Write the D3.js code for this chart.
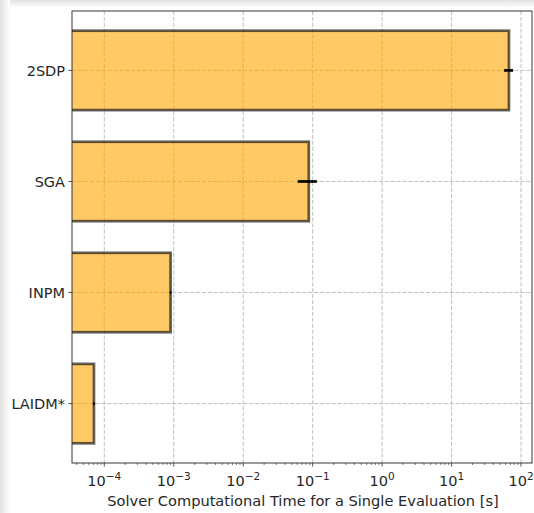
<!DOCTYPE html>
<html>
<head>
<meta charset="utf-8">
<script src="https://cdn.jsdelivr.net/npm/d3@7"></script>
<style>
  html, body { margin: 0; padding: 0; background: #fff; }
  svg { display: block; font-family: "DejaVu Sans", sans-serif; }
</style>
</head>
<body>
<svg id="chart" width="534" height="513"></svg>
<script>
// Solvers, listed top to bottom
const solvers = ["2SDP", "SGA", "INPM", "LAIDM*"];
// Mean time per evaluation [s]
const meanTimes = [67, 0.088, 0.0009, 0.000071];
// Standard deviation of the time [s]
const timeErrors = [10, 0.027, 0.00002, 0.000002];
// Decade exponents for the x-axis tick labels
const tickExponents = [-4, -3, -2, -1, 0, 1, 2];

const svg = d3.select("#chart");
const W = 534, H = 513;
const plot = { left: 72, right: 532, top: 11, bottom: 463 };

// soft shadow along the top and left edges of the frame
const defs = svg.append("defs");
const gTop = defs.append("linearGradient").attr("id", "shadeTop")
  .attr("x1", 0).attr("y1", 0).attr("x2", 0).attr("y2", 1);
gTop.append("stop").attr("offset", 0).attr("stop-color", "#e2e2e2");
gTop.append("stop").attr("offset", 1).attr("stop-color", "#ffffff");
const gLeft = defs.append("linearGradient").attr("id", "shadeLeft")
  .attr("x1", 0).attr("y1", 0).attr("x2", 1).attr("y2", 0);
gLeft.append("stop").attr("offset", 0).attr("stop-color", "#e2e2e2");
gLeft.append("stop").attr("offset", 1).attr("stop-color", "#ffffff");
svg.append("rect").attr("x", 0).attr("y", 0).attr("width", W).attr("height", 8).attr("fill", "url(#shadeTop)");
svg.append("rect").attr("x", 0).attr("y", 0).attr("width", 10).attr("height", H).attr("fill", "url(#shadeLeft)");

const x = d3.scaleLog()
  .domain([Math.pow(10, -4.465), Math.pow(10, 2.158)])
  .range([plot.left, plot.right]);

// categorical positions: index 0 at the bottom, as in a horizontal bar plot
const y = d3.scaleLinear()
  .domain([-0.535, 3.535])
  .range([plot.bottom, plot.top]);
const barHeight = 0.715;
const yPos = (i) => solvers.length - 1 - i;

const clipId = "plotClip";
defs.append("clipPath").attr("id", clipId).append("rect")
  .attr("x", plot.left).attr("y", plot.top)
  .attr("width", plot.right - plot.left).attr("height", plot.bottom - plot.top);

// grid
const majorTicks = tickExponents.map(e => Math.pow(10, e));
const grid = svg.append("g").attr("clip-path", `url(#${clipId})`)
  .attr("stroke", "#b0b0b0").attr("stroke-width", 0.8)
  .attr("stroke-dasharray", "4.1,1.8").attr("fill", "none");
grid.selectAll("line.vx").data(majorTicks).join("line")
  .attr("x1", d => x(d)).attr("x2", d => x(d))
  .attr("y1", plot.top).attr("y2", plot.bottom);
grid.selectAll("line.hy").data(solvers).join("line")
  .attr("x1", plot.left).attr("x2", plot.right)
  .attr("y1", (d, i) => y(yPos(i))).attr("y2", (d, i) => y(yPos(i)));

// bars
const bars = svg.append("g").attr("clip-path", `url(#${clipId})`);
bars.selectAll("rect").data(solvers).join("rect")
  .attr("x", x.range()[0] - 5)
  .attr("y", (d, i) => y(yPos(i) + barHeight / 2))
  .attr("width", (d, i) => x(meanTimes[i]) - x.range()[0] + 5)
  .attr("height", (d, i) => y(yPos(i) - barHeight / 2) - y(yPos(i) + barHeight / 2))
  .attr("fill", "rgba(255,165,0,0.6)")
  .attr("stroke", "rgba(0,0,0,0.62)")
  .attr("stroke-width", 2.7);

// error bars
bars.selectAll("line.err").data(solvers).join("line")
  .attr("class", "err")
  .attr("x1", (d, i) => x(meanTimes[i] - timeErrors[i]))
  .attr("x2", (d, i) => Math.max(x(meanTimes[i] + timeErrors[i]), x(meanTimes[i] - timeErrors[i]) + 1.5))
  .attr("y1", (d, i) => y(yPos(i))).attr("y2", (d, i) => y(yPos(i)))
  .attr("stroke", "#000").attr("stroke-width", 2.7);

// frame
svg.append("rect")
  .attr("x", plot.left).attr("y", plot.top)
  .attr("width", plot.right - plot.left).attr("height", plot.bottom - plot.top)
  .attr("fill", "none").attr("stroke", "#222").attr("stroke-width", 0.9);

// x axis: major ticks with power-of-ten labels
const xAxis = svg.append("g");
const minorTicks = [];
for (let e = -5; e <= 2; e++) {
  for (let m = 2; m <= 9; m++) {
    const v = m * Math.pow(10, e);
    if (v >= x.domain()[0] && v <= x.domain()[1]) minorTicks.push(v);
  }
}
xAxis.selectAll("line.minor").data(minorTicks).join("line")
  .attr("x1", d => x(d)).attr("x2", d => x(d))
  .attr("y1", plot.bottom).attr("y2", plot.bottom + 2)
  .attr("stroke", "#222").attr("stroke-width", 0.6);
xAxis.selectAll("line.major").data(majorTicks).join("line")
  .attr("x1", d => x(d)).attr("x2", d => x(d))
  .attr("y1", plot.bottom).attr("y2", plot.bottom + 3.5)
  .attr("stroke", "#222").attr("stroke-width", 0.8);
const tl = xAxis.selectAll("text.tick").data(tickExponents).join("text")
  .attr("x", d => x(Math.pow(10, d)))
  .attr("y", 486)
  .attr("text-anchor", "middle")
  .attr("font-size", 14.5)
  .attr("fill", "#262626");
tl.append("tspan").text("10");
tl.append("tspan").attr("dy", -6.5).attr("font-size", 10.5)
  .text(d => d < 0 ? "\u2212" + Math.abs(d) : String(d));

svg.append("text")
  .attr("x", (plot.left + plot.right) / 2 + 1)
  .attr("y", 506)
  .attr("text-anchor", "middle")
  .attr("font-size", 14.6)
  .attr("fill", "#262626")
  .text("Solver Computational Time for a Single Evaluation [s]");

// y axis: solver names
const yAxis = svg.append("g");
yAxis.selectAll("line").data(solvers).join("line")
  .attr("x1", plot.left - 3.5).attr("x2", plot.left)
  .attr("y1", (d, i) => y(yPos(i))).attr("y2", (d, i) => y(yPos(i)))
  .attr("stroke", "#222").attr("stroke-width", 0.8);
yAxis.selectAll("text").data(solvers).join("text")
  .attr("x", plot.left - 7)
  .attr("y", (d, i) => y(yPos(i)))
  .attr("dy", "0.36em")
  .attr("text-anchor", "end")
  .attr("font-size", 14.5)
  .attr("fill", "#262626")
  .text(d => d);
</script>
</body>
</html>
